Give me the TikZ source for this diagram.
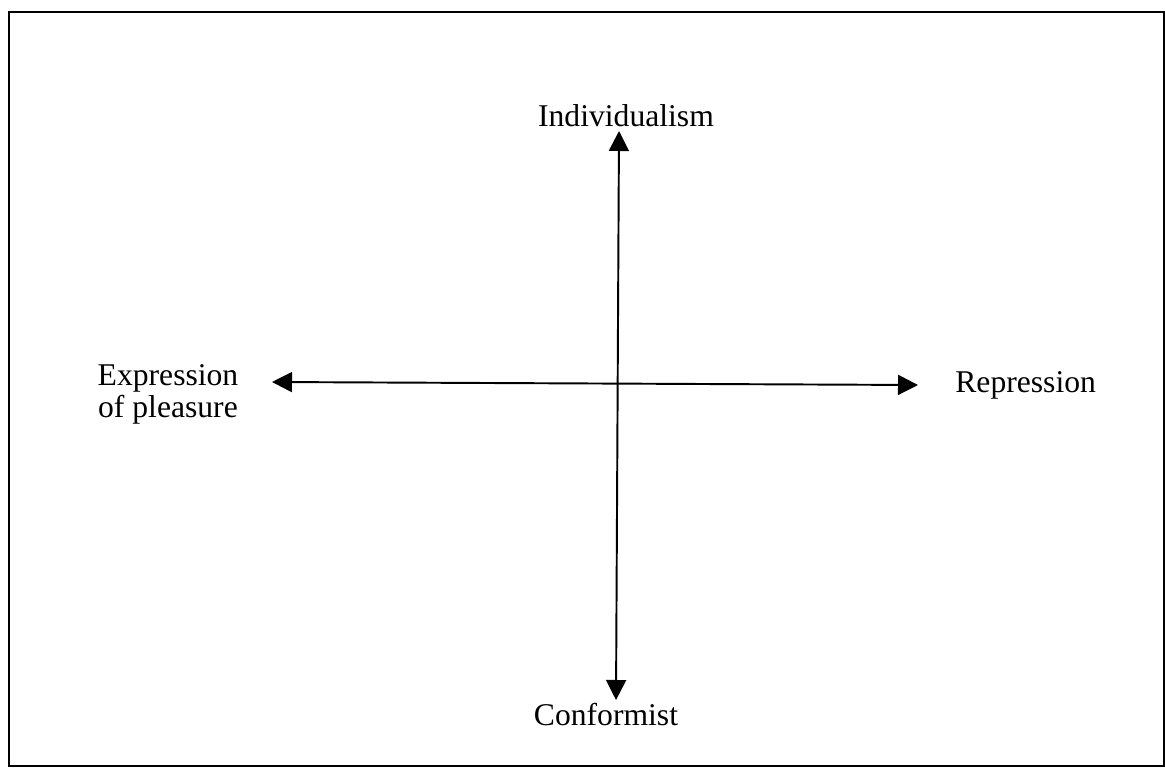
\documentclass[tikz,border=0pt]{standalone}
\usepackage{fontspec}
\setmainfont{Liberation Serif}
\usetikzlibrary{arrows.meta, positioning}

\tikzset{
    axis/.style={<->, >={Triangle[length=4mm, width=4mm]}, line width=1.1pt},
    pole/.style={font=\fontsize{18}{18.2}\selectfont, inner sep=0pt}
}

\begin{document}
\begin{tikzpicture}
    \useasboundingbox (0,0) rectangle (23.3,15.38);

    % frame
    \draw[line width=0.85pt] (0.18,0.06) rectangle (23.28,15.14);

    % labels
    \node[pole, anchor = base] (indiv) at (12.52,12.84) {Individualism};
    \node[pole, anchor = base] (conf) at (12.12,0.88) {Conformist};
    \node[pole, anchor = base west] (repr) at (19.10,7.52) {Repression};
    \node[pole, anchor = base, align=center] (expr) at (3.36,7.04) {Expression\\of pleasure};

    % ends of the axes
    \coordinate (top) at (12.38,12.76);
    \coordinate (bot) at (12.32,1.38);
    \coordinate (lft) at (5.44,7.74);
    \coordinate (rgt) at (18.36,7.68);

    % axes
    \draw[axis] (top) -- (bot);
    \draw[axis] (lft) -- (rgt);
\end{tikzpicture}
\end{document}
